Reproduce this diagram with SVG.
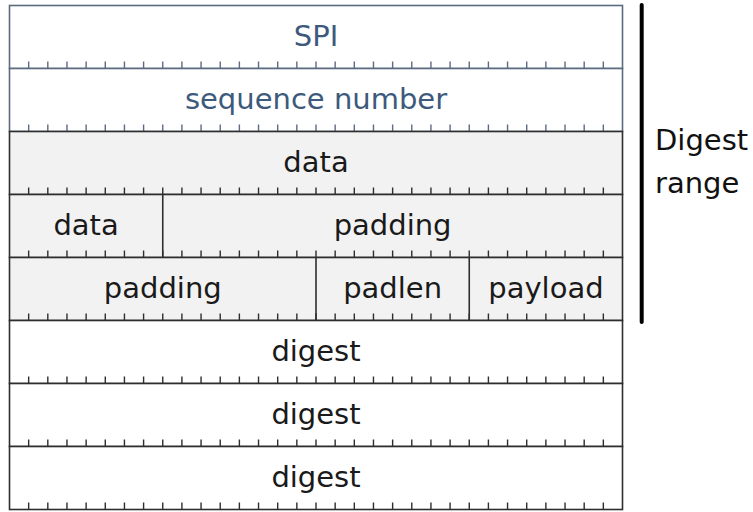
<svg xmlns="http://www.w3.org/2000/svg" xmlns:xlink="http://www.w3.org/1999/xlink" width="753" height="512" viewBox="0 0 753 512">
<style>
  .lbl { font-family: "DejaVu Sans", "Liberation Sans", sans-serif; font-size: 29px; text-anchor: middle; fill: #1a1a1a; }
  .hdr { fill: #3d5a7c; }
  .cellw { fill: #ffffff; stroke: #2e2e2e; stroke-width: 1.6; }
  .cellg { fill: #f2f2f2; stroke: #2e2e2e; stroke-width: 1.6; }
  .cellh { fill: #ffffff; stroke: #5b6b80; stroke-width: 1.6; }
  .div { stroke: #2e2e2e; stroke-width: 1.6; }
  .tk { fill: none; stroke: #2e2e2e; stroke-width: 1.4; }
  .tkh { fill: none; stroke: #5b6b80; stroke-width: 1.4; }
  .side { font-family: "DejaVu Sans", "Liberation Sans", sans-serif; font-size: 29px; fill: #111111; }
</style>
<defs>
  <path id="ticks" d="M28.66 -7V0M47.81 -7V0M66.97 -7V0M86.13 -7V0M105.28 -7V0M124.44 -7V0M143.59 -7V0M162.75 -7V0M181.91 -7V0M201.06 -7V0M220.22 -7V0M239.38 -7V0M258.53 -7V0M277.69 -7V0M296.84 -7V0M316 -7V0M335.16 -7V0M354.31 -7V0M373.47 -7V0M392.63 -7V0M411.78 -7V0M430.94 -7V0M450.09 -7V0M469.25 -7V0M488.41 -7V0M507.56 -7V0M526.72 -7V0M545.88 -7V0M565.03 -7V0M584.19 -7V0M603.34 -7V0"/>
</defs>

<g id="row-spi">
  <rect class="cellh" x="9.5" y="5.5" width="613" height="63"/>
  <use xlink:href="#ticks" href="#ticks" class="tkh" y="68.5"/>
  <text class="lbl hdr" x="316" y="46">SPI</text>
</g>
<g id="row-seq">
  <rect class="cellh" x="9.5" y="68.5" width="613" height="63"/>
  <use xlink:href="#ticks" href="#ticks" class="tkh" y="131.5"/>
  <text class="lbl hdr" x="316" y="109">sequence number</text>
</g>
<g id="row-data">
  <rect class="cellg" x="9.5" y="131.5" width="613" height="63"/>
  <use xlink:href="#ticks" href="#ticks" class="tk" y="194.5"/>
  <text class="lbl" x="316" y="172">data</text>
</g>
<g id="row-data-padding">
  <rect class="cellg" x="9.5" y="194.5" width="613" height="63"/>
  <use xlink:href="#ticks" href="#ticks" class="tk" y="257.5"/>
  <line class="div" x1="162.75" y1="194.5" x2="162.75" y2="257.5"/>
  <text class="lbl" x="86.1" y="235">data</text>
  <text class="lbl" x="392.6" y="235">padding</text>
</g>
<g id="row-padding-padlen-payload">
  <rect class="cellg" x="9.5" y="257.5" width="613" height="63"/>
  <use xlink:href="#ticks" href="#ticks" class="tk" y="320.5"/>
  <line class="div" x1="316" y1="257.5" x2="316" y2="320.5"/>
  <line class="div" x1="469.25" y1="257.5" x2="469.25" y2="320.5"/>
  <text class="lbl" x="162.75" y="298">padding</text>
  <text class="lbl" x="392.6" y="298">padlen</text>
  <text class="lbl" x="545.9" y="298">payload</text>
</g>
<g id="row-digest-1">
  <rect class="cellw" x="9.5" y="320.5" width="613" height="63"/>
  <use xlink:href="#ticks" href="#ticks" class="tk" y="383.5"/>
  <text class="lbl" x="316" y="361">digest</text>
</g>
<g id="row-digest-2">
  <rect class="cellw" x="9.5" y="383.5" width="613" height="63"/>
  <use xlink:href="#ticks" href="#ticks" class="tk" y="446.5"/>
  <text class="lbl" x="316" y="424">digest</text>
</g>
<g id="row-digest-3">
  <rect class="cellw" x="9.5" y="446.5" width="613" height="63"/>
  <use xlink:href="#ticks" href="#ticks" class="tk" y="509.5"/>
  <text class="lbl" x="316" y="487">digest</text>
</g>

<g id="digest-range">
  <line x1="641.7" y1="5" x2="641.7" y2="322" stroke="#000000" stroke-width="4" stroke-linecap="round"/>
  <text class="side" x="655" y="150">Digest</text>
  <text class="side" x="655" y="193">range</text>
</g>
</svg>
